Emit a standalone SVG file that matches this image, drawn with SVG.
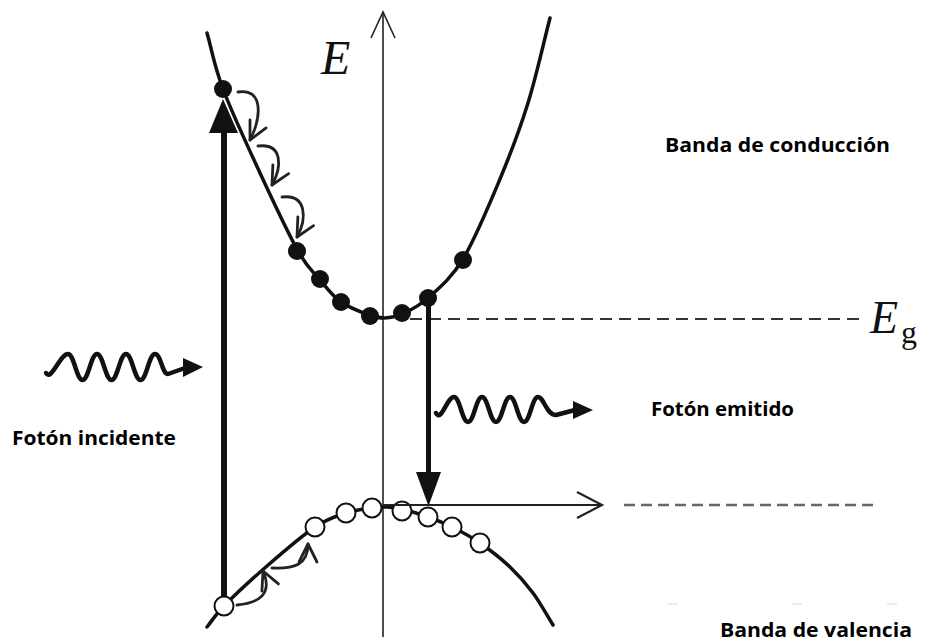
<svg xmlns="http://www.w3.org/2000/svg" width="948" height="643" viewBox="0 0 948 643">
<defs>
<style>
.band{fill:none;stroke:#111;stroke-width:3.5;stroke-linecap:round}
.e{fill:#111;stroke:none}
.h{fill:#fff;stroke:#111;stroke-width:2}
.hook{fill:none;stroke:#222;stroke-width:2.8;stroke-linecap:round;marker-end:url(#chev)}
.wave{fill:none;stroke:#111;stroke-width:4.5;stroke-linecap:round;stroke-linejoin:round}
.lbl{font-family:"Open Sans",Lato,"Liberation Sans",sans-serif;font-weight:700;font-size:20px;fill:#000}
.math{font-family:"Liberation Serif","DejaVu Serif",serif;fill:#111}
</style>
<marker id="chev" markerUnits="userSpaceOnUse" viewBox="-22 -12 26 24" refX="0" refY="0" markerWidth="26" markerHeight="24" orient="auto" overflow="visible">
<path d="M-18,-9 L0,0 L-18,9" fill="none" stroke="#222" stroke-width="2.8" stroke-linecap="round" stroke-linejoin="round"/>
</marker>
</defs>
<rect width="948" height="643" fill="#fff"/>

<g id="axis">
<line x1="383" y1="12" x2="383" y2="637" stroke="#222" stroke-width="1.6"/>
<polyline points="371,38 383,12 395,38" fill="none" stroke="#222" stroke-width="1.6"/>
<text class="math" x="321" y="74" font-size="48" font-style="italic">E</text>
</g>

<g id="gap-lines">
<line x1="410" y1="319" x2="864" y2="319" stroke="#333" stroke-width="2" stroke-dasharray="12 7"/>
<line x1="624" y1="505" x2="873" y2="505" stroke="#666" stroke-width="2.5" stroke-dasharray="11 6"/>
<text class="math" x="870" y="333" font-size="46" font-style="italic">E</text>
<text class="math" x="901" y="343" font-size="32">g</text>
<line x1="668" y1="604" x2="678" y2="604" stroke="#ececec" stroke-width="2"/>
<line x1="792" y1="604" x2="802" y2="604" stroke="#ececec" stroke-width="2"/>
<line x1="887" y1="604" x2="897" y2="604" stroke="#ececec" stroke-width="2"/>
</g>

<g id="conduction-band">
<path class="band" d="M207,33 C212.3,51.7 214.2,65.7 223,89 C231.8,112.3 247.5,146 260,173 C272.5,200 288,233.2 298,251 C308,268.8 312.8,271.5 320,280 C327.2,288.5 332.8,296.2 341,302 C349.2,307.8 361.7,312.3 369,315 C376.3,317.7 379.5,318.2 385,318 C390.5,317.8 394.8,317.3 402,314 C409.2,310.7 417.8,307.2 428,298 C438.2,288.8 451,278.8 463,259 C475,239.2 489.2,205 500,179 C510.8,153 519.7,129.8 528,103 C536.3,76.2 542.7,46.3 550,18"/>
<circle class="e" cx="223" cy="89" r="9"/>
<circle class="e" cx="297" cy="251" r="9"/>
<circle class="e" cx="320" cy="279" r="9"/>
<circle class="e" cx="341" cy="302" r="9"/>
<circle class="e" cx="370" cy="316" r="9"/>
<circle class="e" cx="402" cy="313" r="9"/>
<circle class="e" cx="428" cy="298" r="9"/>
<circle class="e" cx="463" cy="260" r="9"/>
</g>

<g id="valence-band">
<path class="band" d="M207,627 C212.7,620 214,616.2 224,606 C234,595.8 251.8,579.2 267,566 C282.2,552.8 301.8,535.8 315,527 C328.2,518.2 336.5,516.2 346,513 C355.5,509.8 365.2,509 372,508 C378.8,507 382,506.8 387,507 C392,507.2 395.2,507.3 402,509 C408.8,510.7 419.7,514 428,517 C436.3,520 443.3,522.7 452,527 C460.7,531.3 470.3,536.3 480,543 C489.7,549.7 501.2,558.7 510,567 C518.8,575.3 525.8,583.3 533,593 C540.2,602.7 546.3,614.3 553,625"/>
<circle class="h" cx="224" cy="606" r="9.5"/>
<circle class="h" cx="315" cy="527" r="9.5"/>
<circle class="h" cx="346" cy="513" r="9.5"/>
<circle class="h" cx="372" cy="508" r="9.5"/>
<circle class="h" cx="402" cy="511" r="9.5"/>
<circle class="h" cx="428" cy="517" r="9.5"/>
<circle class="h" cx="452" cy="527" r="9.5"/>
<circle class="h" cx="480" cy="543" r="9.5"/>
</g>

<g id="connectors">
<line x1="224" y1="596" x2="224" y2="128" stroke="#111" stroke-width="6"/>
<polygon points="223,99 209,133 238,133" fill="#111"/>
<line x1="428.5" y1="300" x2="428.5" y2="474" stroke="#111" stroke-width="5"/>
<polygon points="416,472 441,472 428.5,506" fill="#111"/>
<line x1="383" y1="505" x2="601" y2="505" stroke="#222" stroke-width="2"/>
<polyline points="577,492 602,505 577,518" fill="none" stroke="#222" stroke-width="2.2"/>
<path class="hook" d="M238,92 C263,88 262,116 250,140"/>
<path class="hook" d="M258,146 C283,143 282,167 272,185"/>
<path class="hook" d="M282,197 C307,194 307,219 297,237"/>
<path class="hook" d="M237,605 C259,603 273,594 263,571"/>
<path class="hook" d="M272,568 C294,569 308,565 308,544"/>
</g>

<g id="photon-incident">
<path class="wave" d="M46,373 C51,382 60,354 68,354 C74,354 76.5,380 82.5,380 C88.5,380 91,354 97,354 C103,354 105.5,380 111.5,380 C117.5,380 120,354 126,354 C132,354 134.5,380 140.5,380 C146.5,380 149,354 155,354 C161,354 162,374 168,374 L185,368"/>
<polygon points="183,358 203,367 183,377" fill="#111"/>
<text class="lbl" x="12" y="445" textLength="164" lengthAdjust="spacingAndGlyphs">Fotón incidente</text>
</g>

<g id="photon-emitted">
<path class="wave" d="M436,413 C441,423 447,397 454,397 C460,397 462,422 468,422 C474,422 476,397 482,397 C488,397 490,422 496,422 C502,422 504,397 510,397 C516,397 518,422 524,422 C530,422 532,397 538,397 C544,397 546,415 556,415 L575,410"/>
<polygon points="573,401 593,410 573,419" fill="#111"/>
<text class="lbl" x="651" y="416" textLength="143" lengthAdjust="spacingAndGlyphs">Fotón emitido</text>
</g>

<g id="labels">
<text class="lbl" x="665" y="152" textLength="225" lengthAdjust="spacingAndGlyphs">Banda de conducción</text>
<text class="lbl" x="720" y="637" textLength="192" lengthAdjust="spacingAndGlyphs">Banda de valencia</text>
</g>
</svg>
